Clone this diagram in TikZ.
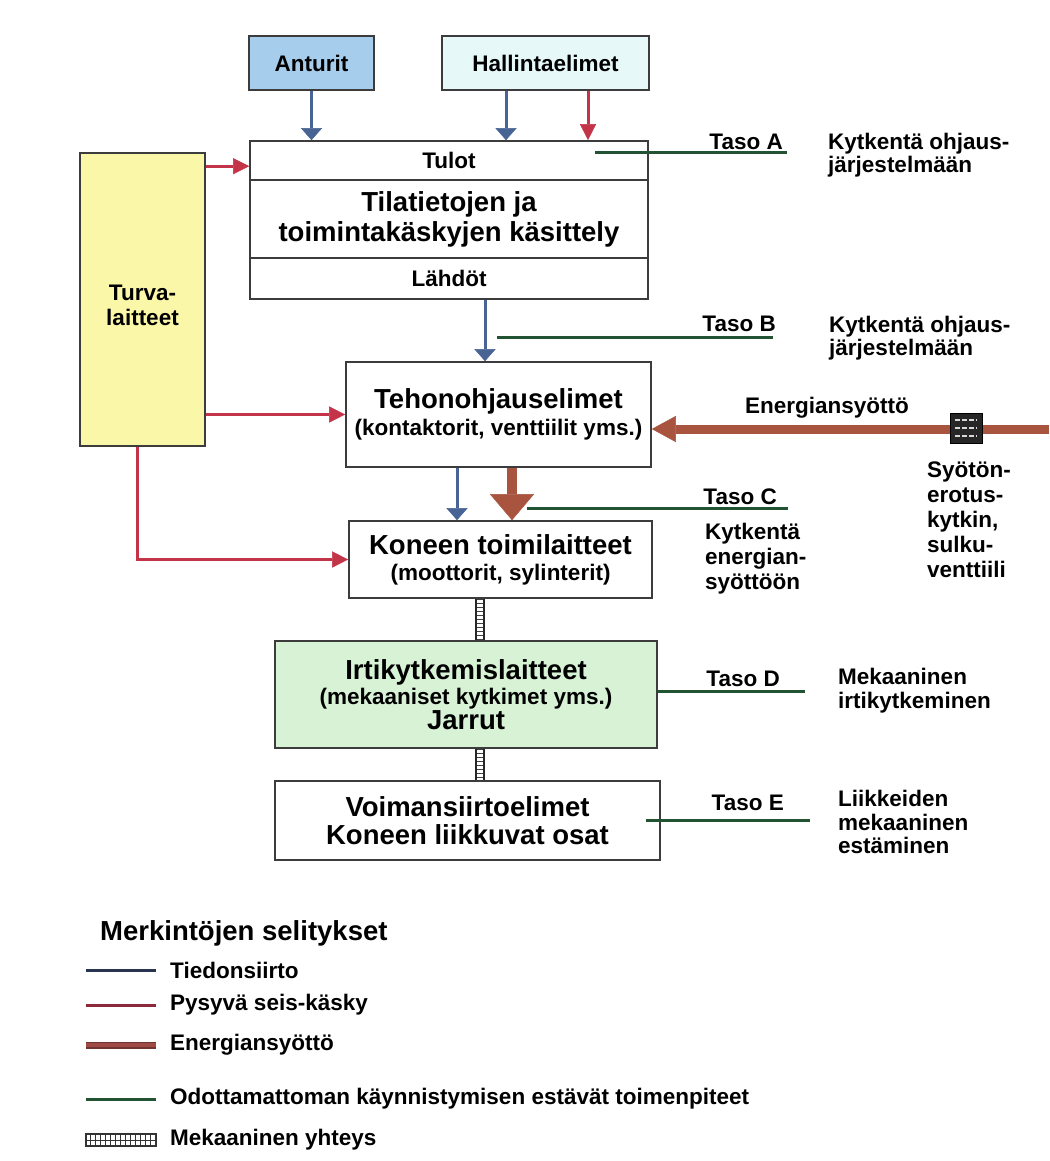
\documentclass[tikz,border=0pt]{standalone}
\usepackage{fontspec}
\setmainfont{Liberation Sans}
\usetikzlibrary{arrows.meta,calc}

\definecolor{infoblue}{RGB}{72,100,148}
\definecolor{stopred}{RGB}{196,52,72}
\definecolor{energybrown}{RGB}{168,84,62}
\definecolor{safegreen}{RGB}{34,84,52}
\definecolor{antfill}{RGB}{166,205,236}
\definecolor{halfill}{RGB}{230,248,248}
\definecolor{turvafill}{RGB}{250,248,168}
\definecolor{irtifill}{RGB}{216,242,214}
\definecolor{edge}{RGB}{60,60,60}
\definecolor{legblue}{RGB}{40,52,80}
\definecolor{legred}{RGB}{140,42,60}
\definecolor{legbrown}{RGB}{160,74,70}

\newcommand{\dgbig}{\fontsize{27.5}{30}\selectfont}
\newcommand{\dgnorm}{\fontsize{22.5}{25}\selectfont}

\begin{document}
\begin{tikzpicture}[x=1pt,y=-1pt,
  box/.style={draw=edge, line width=1.6pt, inner sep=0pt, align=center, font=\bfseries\dgnorm},
  lbl/.style={inner sep=0pt, font=\bfseries\dgnorm},
  mlbl/.style={lbl, align=left, anchor=north west},
  infoline/.style={draw=infoblue, line width=3pt},
  info/.style={infoline, -{Triangle[width=21pt,length=12pt,line width=0.5pt]}},
  stopline/.style={draw=stopred, line width=3pt},
  stoparrow/.style={stopline, -{Triangle[width=16pt,length=16pt,line width=0.5pt]}},
  energy/.style={draw=energybrown, line width=9pt, -{Triangle[width=26pt,length=24pt,line width=0.5pt]}},
  energydown/.style={draw=energybrown, line width=10pt, -{Triangle[width=44pt,length=26pt,line width=0.5pt]}},
  safe/.style={draw=safegreen, line width=3pt},
  mechrails/.style={draw=black!85, line width=1.8pt, double=white, double distance=6.5pt},
  mechrungs/.style={draw=black!75, line width=6.6pt, dash pattern=on 1.4pt off 2.6pt}
]
\useasboundingbox[fill=white] (0,0) rectangle (1049,1161);

% --- inputs
\node[box, fill=antfill, minimum width=125pt, minimum height=54pt] (ant) at (311.5,63) {Anturit};
\node[box, fill=halfill, minimum width=207pt, minimum height=54pt] (hal) at (545.5,63) {Hallintaelimet};

% --- control system block
\node[box, minimum width=398pt, minimum height=39pt] (tulot) at (449,160.5) {Tulot};
\node[box, minimum width=398pt, minimum height=78pt, font=\bfseries\dgbig] (kas) at (449,219) {Tilatietojen ja\\toimintakäskyjen käsittely};
\node[box, minimum width=398pt, minimum height=41pt] (lahdot) at (449,278.5) {Lähdöt};

% --- safety devices
\node[box, fill=turvafill, minimum width=125pt, minimum height=293pt] (turva) at (142.5,299.5) {};
\node[lbl, align=center] (turvatxt) at (142.5,305) {Turva-\\laitteet};

% --- power chain
\node[box, minimum width=305pt, minimum height=105pt] (tehon) at (498.5,414.5) {{\dgbig Tehonohjauselimet}\\[2pt](kontaktorit, venttiilit yms.)};
\node[box, minimum width=303pt, minimum height=77pt] (koneen) at (500.5,559.5) {{\dgbig Koneen toimilaitteet}\\[1pt](moottorit, sylinterit)};
\node[box, fill=irtifill, minimum width=382pt, minimum height=107pt] (irti) at (466,694.5) {{\dgbig Irtikytkemislaitteet}\\(mekaaniset kytkimet yms.)\\{\dgbig Jarrut}};
\node[box, minimum width=385pt, minimum height=79pt, font=\bfseries\fontsize{27.5}{28}\selectfont] (voima) at (467.5,820.5) {Voimansiirtoelimet\\Koneen liikkuvat osat};

% --- information flow
\draw[info] (ant.south) -- (ant.south |- tulot.north);
\coordinate (h1) at ($(hal.south)+(-39.5,0)$);
\draw[info] (h1) -- (h1 |- tulot.north);
\coordinate (h2) at ($(hal.south)+(42.5,0)$);
\draw[stoparrow] (h2) -- (h2 |- tulot.north);
\coordinate (b1) at ($(lahdot.south)+(36,0)$);
\draw[info] (b1) -- (b1 |- tehon.north);
\coordinate (c1) at ($(tehon.south)+(-41.5,0)$);
\draw[info] (c1) -- (c1 |- koneen.north);

% --- stop commands from the safety devices
\coordinate (r1) at ($(turva.north east)+(0,14)$);
\draw[stoparrow] (r1) -- (r1 -| tulot.west);
\draw[stoparrow] (turva.east |- tehon.west) -- (tehon.west);
\coordinate (r3) at ($(turva.south)+(-5.5,0)$);
\draw[stoparrow] (r3) |- (koneen.west);

% --- energy supply
\coordinate (ein) at (1049,429);
\draw[energy] (ein) -- (ein -| tehon.east);
\coordinate (c2) at ($(tehon.south)+(13.5,0)$);
\draw[energydown] (c2) -- (c2 |- koneen.north);
\node[lbl] (entxt) at (827,408) {Energiansyöttö};

% isolating switch on the supply line
\node[draw=black, fill=black!85, line width=1pt, minimum width=32pt, minimum height=30pt, inner sep=0pt] (sw) at (966,428) {};
\foreach \dy in {-8,0,8}
  \draw[white!85!black, line width=2.2pt, dash pattern=on 5pt off 2pt] ($(sw.center)+(-11,\dy)$) -- ($(sw.center)+(11,\dy)$);

% --- mechanical links (rails, then rungs between them)
\coordinate (mk1) at ($(koneen.south)+(-20.5,0)$);
\draw[mechrails] (mk1) -- (mk1 |- irti.north);
\draw[mechrungs] (mk1) -- (mk1 |- irti.north);
\coordinate (mk2) at ($(irti.south)+(14,0)$);
\draw[mechrails] (mk2) -- (mk2 |- voima.north);
\draw[mechrungs] (mk2) -- (mk2 |- voima.north);

% --- levels A..E
\coordinate (ga1) at (595,153); \coordinate (ga2) at (787,153);
\draw[safe] (ga1) -- (ga2);
\node[lbl, anchor=east] (tasoA) at (783,142) {Taso A};
\node[mlbl] (kytA) at (828,133) {Kytkentä ohjaus-\\[-2pt]järjestelmään};

\coordinate (gb1) at (497,337); \coordinate (gb2) at (773,337);
\draw[safe] (gb1) -- (gb2);
\node[lbl, anchor=east] (tasoB) at (776,324) {Taso B};
\node[mlbl] (kytB) at (829,316) {Kytkentä ohjaus-\\[-2pt]järjestelmään};

\coordinate (gc1) at (527,508); \coordinate (gc2) at (788,508);
\draw[safe] (gc1) -- (gc2);
\node[lbl, anchor=east] (tasoC) at (777,497) {Taso C};
\node[mlbl] (kytC) at (705,523) {Kytkentä\\energian-\\syöttöön};
\node[mlbl] (syot) at (927,462) {Syötön-\\erotus-\\kytkin,\\sulku-\\venttiili};

\coordinate (gd2) at (805,691);
\draw[safe] (irti.east |- gd2) -- (gd2);
\node[lbl, anchor=east] (tasoD) at (780,679) {Taso D};
\node[mlbl] (mekD) at (838,668) {Mekaaninen\\[-1pt]irtikytkeminen};

\coordinate (ge1) at (646,820); \coordinate (ge2) at (810,820);
\draw[safe] (ge1) -- (ge2);
\node[lbl, anchor=east] (tasoE) at (784,803) {Taso E};
\node[mlbl] (liikE) at (838,790) {Liikkeiden\\[-1.5pt]mekaaninen\\[-1.5pt]estäminen};

% --- legend
\node[lbl, anchor=west, font=\bfseries\dgbig] (legtitle) at (100,933) {Merkintöjen selitykset};

\coordinate (la1) at (86,970); \coordinate (la2) at (156,970);
\draw[draw=legblue, line width=3pt] (la1) -- (la2);
\node[lbl, anchor=west] (legA) at (170,970) {Tiedonsiirto};

\coordinate (lb1) at (86,1005); \coordinate (lb2) at (156,1005);
\draw[draw=legred, line width=3pt] (lb1) -- (lb2);
\node[lbl, anchor=west] (legB) at (170,1005) {Pysyvä seis-käsky};

\coordinate (lc1) at (86,1045); \coordinate (lc2) at (156,1045);
\draw[draw=legbrown!70!black, line width=7pt] (lc1) -- (lc2);
\draw[draw=legbrown, line width=4.5pt] (lc1) -- (lc2);
\node[lbl, anchor=west] (legC) at (170,1045) {Energiansyöttö};

\coordinate (ld1) at (86,1099); \coordinate (ld2) at (156,1099);
\draw[safe] (ld1) -- (ld2);
\node[lbl, anchor=west] (legD) at (170,1099) {Odottamattoman käynnistymisen estävät toimenpiteet};

\coordinate (le1) at (86,1140); \coordinate (le2) at (156,1140);
\draw[draw=black!80, line width=1.6pt] (86,1134) rectangle (156,1146);
\draw[draw=black!80, line width=1pt] (le1) -- (le2);
\foreach \x in {90,95,...,152}
  \draw[draw=black!80, line width=1pt] (\x,1134) -- (\x,1146);
\node[lbl, anchor=west] (legE) at (170,1140) {Mekaaninen yhteys};

\end{tikzpicture}
\end{document}
